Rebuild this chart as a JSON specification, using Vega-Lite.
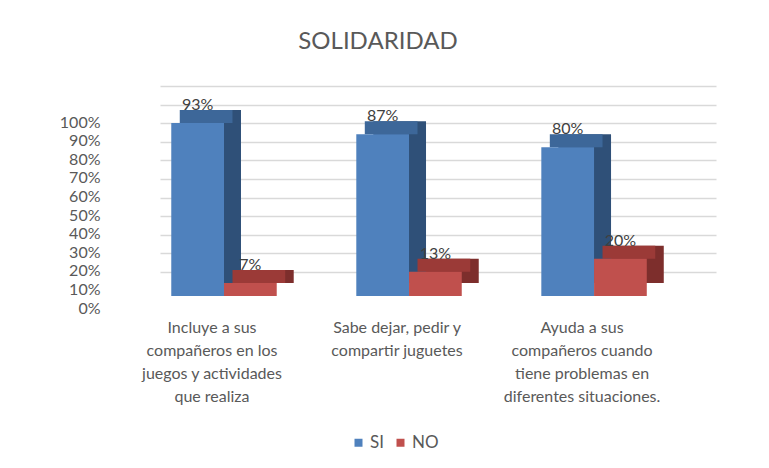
{
  "$schema": "https://vega.github.io/schema/vega-lite/v6.json",
  "autosize": {"type": "none"},
  "width": 556,
  "height": 186,
  "padding": {"left": 160, "top": 110, "right": 53, "bottom": 172},
  "background": "white",
  "config": {"view": {"stroke": null}},
  "title": {
    "text": "SOLIDARIDAD",
    "font": "Lato",
    "fontSize": 24,
    "fontWeight": "normal",
    "color": "#595959",
    "anchor": "middle",
    "frame": "group",
    "baseline": "alphabetic",
    "offset": 24,
    "dx": -60
  },
  "data": {
    "values": [
      {"Pregunta": "Incluye a sus|compañeros en los|juegos y actividades|que realiza", "Respuesta": "SI", "Valor": 0.93},
      {"Pregunta": "Incluye a sus|compañeros en los|juegos y actividades|que realiza", "Respuesta": "NO", "Valor": 0.07},
      {"Pregunta": "Sabe dejar, pedir y|compartir juguetes", "Respuesta": "SI", "Valor": 0.87},
      {"Pregunta": "Sabe dejar, pedir y|compartir juguetes", "Respuesta": "NO", "Valor": 0.13},
      {"Pregunta": "Ayuda a sus|compañeros cuando|tiene problemas en|diferentes situaciones.", "Respuesta": "SI", "Valor": 0.80},
      {"Pregunta": "Ayuda a sus|compañeros cuando|tiene problemas en|diferentes situaciones.", "Respuesta": "NO", "Valor": 0.20}
    ]
  },
  "encoding": {
    "x": {
      "field": "Pregunta",
      "type": "nominal",
      "sort": null,
      "scale": {"paddingInner": 0.43, "paddingOuter": 0.2175, "align": 0.14},
      "axis": {
        "title": null,
        "domain": false,
        "ticks": false,
        "labelAngle": 0,
        "labelExpr": "split(datum.value, '|')",
        "labelFont": "Lato",
        "labelFontSize": 16,
        "labelColor": "#595959",
        "labelLineHeight": 23,
        "labelBaseline": "top",
        "labelPadding": 23,
        "labelOffset": -12,
        "labelLimit": 300
      }
    },
    "y": {
      "field": "Valor",
      "type": "quantitative",
      "scale": {"domain": [0, 1], "nice": false},
      "axis": {
        "title": null,
        "format": ".0%",
        "values": [0, 0.1, 0.2, 0.3, 0.4, 0.5, 0.6, 0.7, 0.8, 0.9, 1],
        "domain": false,
        "ticks": false,
        "grid": true,
        "gridColor": "#d9d9d9",
        "gridWidth": 1.5,
        "tickOffset": -24,
        "labelOffset": 36,
        "labelFont": "Lato",
        "labelFontSize": 16,
        "labelColor": "#595959",
        "labelPadding": 60
      }
    }
  },
  "layer": [
    {
      "mark": {"type": "bar", "yOffset": -13, "y2Offset": -13},
      "encoding": {
        "xOffset": {"field": "Respuesta", "type": "nominal", "sort": ["SI", "NO"], "scale": {"range": [17, 122.45]}},
        "color": {
          "field": "Respuesta",
          "type": "nominal",
          "scale": {"domain": ["SI", "NO"], "range": ["#2f5078", "#7d2e2c"]},
          "legend": null
        }
      }
    },
    {
      "mark": {"type": "bar", "yOffset": -13, "y2Offset": 0},
      "encoding": {
        "y2": {"field": "Valor"},
        "xOffset": {"field": "Respuesta", "type": "nominal", "sort": ["SI", "NO"], "scale": {"range": [8.5, 113.95]}},
        "color": {
          "field": "Respuesta",
          "type": "nominal",
          "scale": {"domain": ["SI", "NO"], "range": ["#3d6799", "#9b3a37"]},
          "legend": null
        }
      }
    },
    {
      "layer": [
        {
          "mark": {"type": "bar"},
          "encoding": {
            "xOffset": {"field": "Respuesta", "type": "nominal", "sort": ["SI", "NO"], "scale": {"paddingInner": 0, "paddingOuter": 0}},
            "color": {
              "field": "Respuesta",
              "type": "nominal",
              "scale": {"domain": ["SI", "NO"], "range": ["#4f81bd", "#c0504d"]},
              "legend": {
                "title": null,
                "orient": "none",
                "direction": "horizontal",
                "legendX": 190,
                "legendY": 324,
                "symbolType": "square",
                "symbolSize": 64,
                "symbolStrokeWidth": 0,
                "labelFont": "Lato",
                "labelFontSize": 17,
                "labelColor": "#595959",
                "labelOffset": 3,
                "columnPadding": 8
              }
            }
          }
        },
        {
          "mark": {"type": "text", "font": "Lato", "fontSize": 16, "color": "#404040", "baseline": "alphabetic", "dy": -13},
          "encoding": {
            "xOffset": {"field": "Respuesta", "type": "nominal", "sort": ["SI", "NO"]},
            "text": {"field": "Valor", "type": "quantitative", "format": ".0%"}
          }
        }
      ]
    }
  ],
  "resolve": {"scale": {"xOffset": "independent", "color": "independent"}}
}
